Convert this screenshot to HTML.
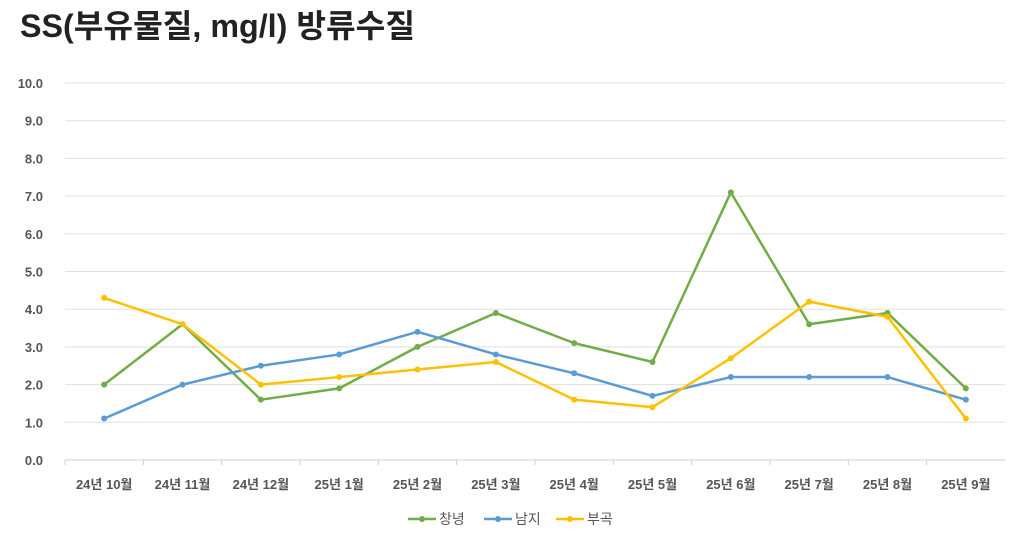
<!DOCTYPE html>
<html><head><meta charset="utf-8">
<style>
body{margin:0;background:#fff;width:1014px;height:542px;overflow:hidden;font-family:"Liberation Sans","Noto Sans CJK KR",sans-serif;}
svg text{font-family:"Liberation Sans","Noto Sans CJK KR",sans-serif;}
</style></head>
<body>
<svg id="chart" width="1014" height="542">
<text x="20" y="37" font-size="32" font-weight="bold" fill="#222" textLength="395" lengthAdjust="spacingAndGlyphs">SS(부유물질, mg/l) 방류수질</text>
<g id="grid"></g><g id="axes"></g><g id="series"></g><g id="legend"></g>
</svg>
<script>
const categories=["24년 10월","24년 11월","24년 12월","25년 1월","25년 2월","25년 3월","25년 4월","25년 5월","25년 6월","25년 7월","25년 8월","25년 9월"];
const changnyeong=[2.0,3.6,1.6,1.9,3.0,3.9,3.1,2.6,7.1,3.6,3.9,1.9];
const namji=[1.1,2.0,2.5,2.8,3.4,2.8,2.3,1.7,2.2,2.2,2.2,1.6];
const bugok=[4.3,3.6,2.0,2.2,2.4,2.6,1.6,1.4,2.7,4.2,3.8,1.1];
const yTicks=[0,1,2,3,4,5,6,7,8,9,10];
const seriesNames=["창녕","남지","부곡"];
const NS="http://www.w3.org/2000/svg";
const L=65,R=1005,T=83,B=460,yMax=10;
const bw=(R-L)/categories.length;
const x=i=>L+bw*(i+0.5);
const y=v=>B-(v/yMax)*(B-T);
function mk(tag,attrs,parent){const e=document.createElementNS(NS,tag);for(const k in attrs)e.setAttribute(k,attrs[k]);parent.appendChild(e);return e;}
const grid=document.getElementById('grid'),axes=document.getElementById('axes'),ser=document.getElementById('series'),leg=document.getElementById('legend');
yTicks.forEach(t=>{
  const ln=mk('line',{x1:L,x2:R,y1:y(t),y2:y(t),stroke:t===0?'#d0d0d0':'#e0e0e0','stroke-width':1},grid);
  
  
  const tx=mk('text',{x:43,y:y(t)+5,'text-anchor':'end','font-size':13,'font-weight':'bold',fill:'#555'},axes);
  tx.textContent=t.toFixed(1);
  
  
});
categories.forEach((c,i)=>{
  const tk=mk('line',{x1:L+bw*i,x2:L+bw*i,y1:B,y2:B+5,stroke:'#d0d0d0'},axes);
  
  
  const tx=mk('text',{x:x(i),y:489,'text-anchor':'middle','font-size':13,'font-weight':'bold',fill:'#555'},axes);
  tx.textContent=c;
  
  
});
const data=[changnyeong,namji,bugok];
const colors=["#70ad47","#5b9bd5","#ffc000"];
const names=["series-changnyeong","series-namji","series-bugok"];
data.forEach((d,s)=>{
  const g=mk('g',{},ser);
  
  
  const pl=mk('polyline',{points:d.map((v,i)=>x(i)+','+y(v)).join(' '),fill:'none',stroke:colors[s],'stroke-width':2.5,'stroke-linejoin':'round'},g);
  
  
  d.forEach((v,i)=>{
    const c=mk('circle',{cx:x(i),cy:y(v),r:3,fill:colors[s]},g);
    
    
  });
});
const lx=[408,484,556];
seriesNames.forEach((n,s)=>{
  const g=mk('g',{},leg);
  
  
  mk('line',{x1:lx[s],x2:lx[s]+28,y1:519,y2:519,stroke:colors[s],'stroke-width':2.5},g);
  mk('circle',{cx:lx[s]+14,cy:519,r:3,fill:colors[s]},g);
  const t=mk('text',{x:lx[s]+31,y:524,'font-size':14,fill:'#555'},g);
  t.textContent=n;
});
</script>
</body></html>
